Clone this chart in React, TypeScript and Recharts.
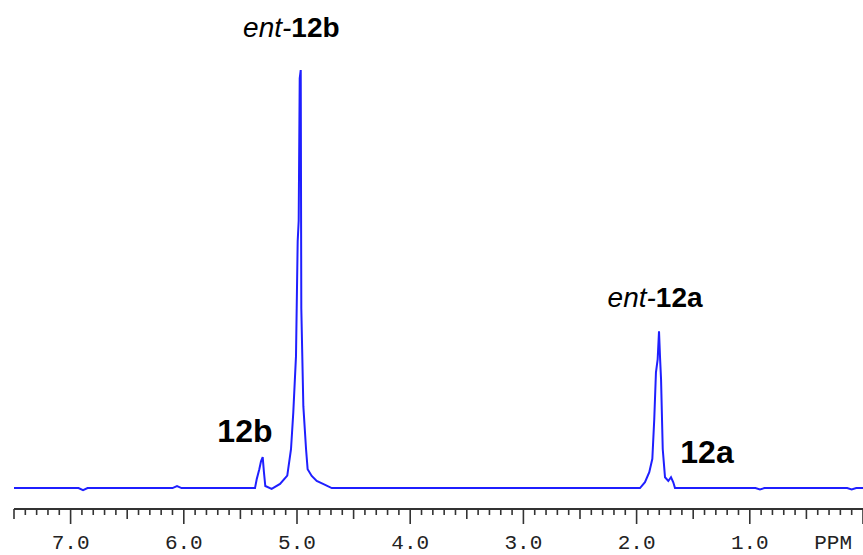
import { LineChart, Line, XAxis, YAxis, ReferenceDot } from 'recharts'

// chemical shift (ppm), high field on the right
const shifts = [
  7.5, 6.93, 6.89, 6.85, 6.1, 6.06, 6.02,
  5.371, 5.356, 5.333, 5.318, 5.303, 5.292, 5.28, 5.224, 5.15, 5.086, 5.053, 5.033, 5.009,
  4.994, 4.985, 4.976, 4.967, 4.962, 4.944, 4.92, 4.906, 4.87, 4.826, 4.77, 4.693,
  1.97, 1.926, 1.888, 1.861, 1.844, 1.829, 1.814, 1.802, 1.793, 1.784, 1.769, 1.749,
  1.72, 1.696, 1.676, 1.661,
  0.95, 0.91, 0.87, 0.14, 0.1, 0.06, 0,
]

// relative intensity (tallest peak = 100)
const intensities = [
  0, 0, -0.5, 0, 0, 0.5, 0,
  0, 2.1, 4.5, 6.4, 7.4, 3.8, 0.5, -0.2, 1, 3, 9.3, 18, 31.5,
  59, 64, 98, 100, 43, 19.6, 9.3, 4.5, 2.9, 1.7, 1, 0,
  0, 1.4, 3.8, 7, 16.5, 27.7, 30.8, 37.5, 31.3, 26, 9.3, 2.6,
  1.7, 2.6, 1.4, 0,
  0, -0.3, 0, 0, -0.3, 0, 0,
]

const majorTicks = [7, 6, 5, 4, 3, 2, 1]
const axisTicks = Array.from({ length: 76 }, (_, i) => Number((7.5 - i * 0.1).toFixed(1)))

// peak annotations: [italic prefix, bold compound, ppm, intensity, font size]
const peakLabels: [string, string, number, number, number][] = [
  ['ent-', '12b', 5.05, 107.9, 28],
  ['', '12b', 5.46, 11, 32],
  ['ent-', '12a', 1.837, 43.3, 28],
  ['', '12a', 1.378, 6, 32],
]

const data = shifts.map((ppm, i) => ({ ppm, intensity: intensities[i] }))

const axisColor = '#333'
const monoFont = '"Liberation Mono", "DejaVu Sans Mono", monospace'
const sansFont = '"Liberation Sans", Arial, sans-serif'

function SpectrumTick(props: any) {
  const { x, y, payload } = props
  const v = payload.value as number
  const whole = Math.abs(v - Math.round(v)) < 1e-6
  const half = !whole && Math.abs(v * 2 - Math.round(v * 2)) < 1e-6
  const len = whole ? 15 : half ? 10 : 6
  return (
    <g>
      <line x1={x} x2={x} y1={y} y2={y + len} stroke={axisColor} strokeWidth={1.6} />
      {majorTicks.includes(v) && (
        <text x={x} y={y + 40} textAnchor="middle" fontFamily={monoFont} fontSize={21} fill="#222">
          {v.toFixed(1)}
        </text>
      )}
      {v === 0 && (
        <text x={x - 11} y={y + 40} textAnchor="end" fontFamily={monoFont} fontSize={21} fill="#222">
          PPM
        </text>
      )}
    </g>
  )
}

function PeakLabel(props: any, prefix: string, name: string, size: number) {
  const { cx, cy } = props
  return (
    <text x={cx} y={cy} textAnchor="middle" fontFamily={sansFont} fontSize={size} fill="#000">
      {prefix && <tspan fontStyle="italic">{prefix}</tspan>}
      <tspan fontWeight="bold">{name}</tspan>
    </text>
  )
}

export default function App() {
  return (
    <div style={{ width: 863, height: 555, background: '#fff' }}>
      <style>{'body{margin:0}'}</style>
      <LineChart width={863} height={555} data={data} margin={{ top: 70, right: 0, bottom: 0, left: 14 }}>
        <XAxis
          dataKey="ppm"
          type="number"
          domain={[0, 7.5]}
          reversed
          allowDataOverflow
          ticks={axisTicks}
          interval={0}
          tick={SpectrumTick}
          tickLine={false}
          tickSize={0}
          tickMargin={0}
          height={46}
          axisLine={{ stroke: axisColor, strokeWidth: 2 }}
        />
        <YAxis type="number" domain={[-5, 100]} hide allowDataOverflow />
        <Line
          type="linear"
          dataKey="intensity"
          stroke="#1f1fff"
          strokeWidth={2}
          dot={false}
          isAnimationActive={false}
        />
        {peakLabels.map(([prefix, name, ppm, inten, size]) => (
          <ReferenceDot
            key={prefix + name}
            x={ppm}
            y={inten}
            r={0}
            ifOverflow="visible"
            shape={(p: any) => PeakLabel(p, prefix, name, size)}
          />
        ))}
      </LineChart>
    </div>
  )
}
